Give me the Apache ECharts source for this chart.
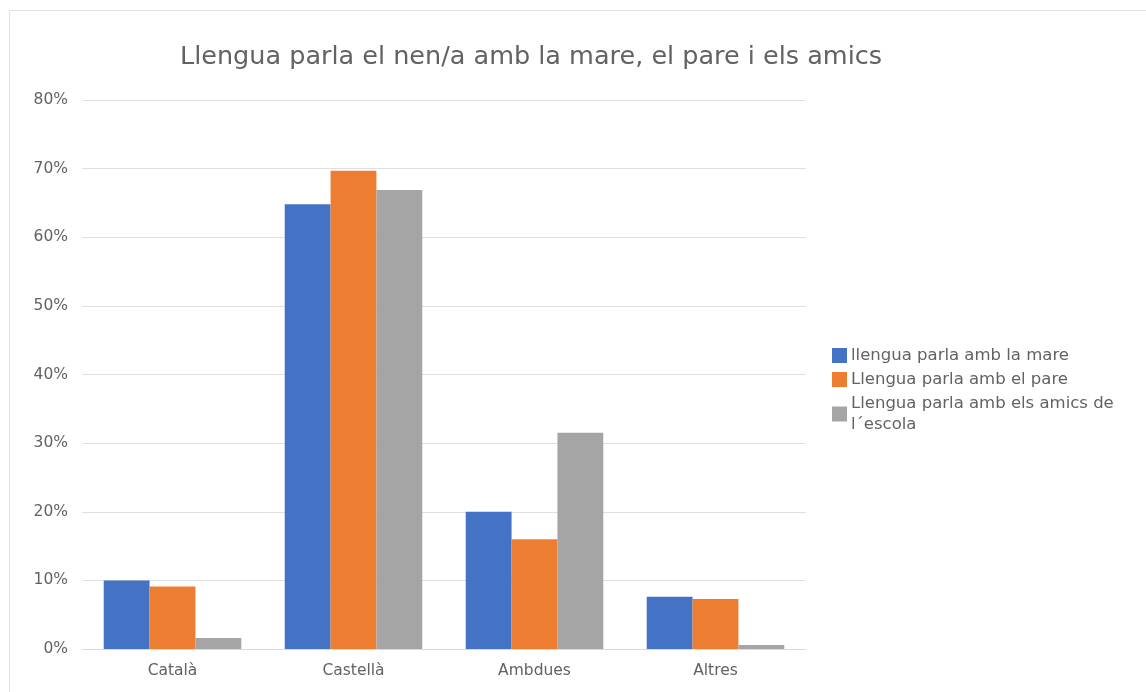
<!DOCTYPE html>
<html>
<head>
<meta charset="utf-8">
<script src="https://cdn.jsdelivr.net/npm/echarts@6/dist/echarts.min.js"></script>
<style>
  html, body { margin: 0; padding: 0; background: #fff; }
  #frame {
    position: absolute; left: 9px; top: 10px; width: 1160px; height: 700px;
    border: 1px solid #e3e3e3; box-sizing: border-box;
  }
  #chart { width: 1146px; height: 692px; position: absolute; left: 0; top: 0; }
</style>
</head>
<body>
<div id="frame"></div>
<div id="chart"></div>
<script>
const categories = ['Català', 'Castellà', 'Ambdues', 'Altres']
const seriesNames = [
  'llengua parla amb la mare',
  'Llengua parla amb el pare',
  'Llengua parla amb els amics de l´escola'
]
const mare = [10.0, 64.8, 20.0, 7.6]
const pare = [9.1, 69.7, 16.0, 7.3]
const amics = [1.6, 66.9, 31.5, 0.6]
const yTicks = [0, 10, 20, 30, 40, 50, 60, 70, 80]

const colors = ['#4472C4', '#ED7D31', '#A5A5A5']
const textColor = '#626262'
const font = '"DejaVu Sans", "Noto Sans", sans-serif'

const chart = echarts.init(document.getElementById('chart'))

const option = {
  animation: false,
  title: {
    text: 'Llengua parla el nen/a amb la mare, el pare i els amics',
    left: 526,
    top: 39,
    textAlign: 'center',
    textStyle: {
      fontFamily: font,
      fontSize: 25.5,
      fontWeight: 'normal',
      color: textColor
    }
  },
  legend: {
    orient: 'vertical',
    left: 832,
    top: 345,
    padding: 0,
    itemWidth: 15,
    itemHeight: 15,
    itemGap: 3,
    icon: 'rect',
    data: seriesNames,
    formatter: (name) => name === seriesNames[2]
      ? 'Llengua parla amb els amics de\nl´escola'
      : name,
    textStyle: {
      fontFamily: font,
      fontSize: 16.5,
      color: textColor,
      lineHeight: 21,
      padding: [0, 0, 0, -1]
    }
  },
  grid: {
    left: 82,
    right: 1146 - 806,
    top: 100,
    bottom: 692 - 649,
    containLabel: false
  },
  xAxis: {
    type: 'category',
    data: categories,
    axisLine: { lineStyle: { color: '#d9d9d9' } },
    axisTick: { show: false },
    axisLabel: {
      fontFamily: font,
      fontSize: 15.5,
      color: textColor,
      margin: 14
    }
  },
  yAxis: {
    type: 'value',
    min: yTicks[0],
    max: yTicks[yTicks.length - 1],
    interval: 10,
    axisLine: { show: false },
    axisTick: { show: false },
    splitLine: { lineStyle: { color: '#e0e0e0', width: 1 } },
    axisLabel: {
      formatter: '{value}%',
      fontFamily: font,
      fontSize: 15.5,
      color: textColor,
      margin: 14
    }
  },
  series: [
    { name: seriesNames[0], type: 'bar', data: mare, itemStyle: { color: colors[0] }, barGap: '0%', barCategoryGap: '24%' },
    { name: seriesNames[1], type: 'bar', data: pare, itemStyle: { color: colors[1] }, barGap: '0%', barCategoryGap: '24%' },
    { name: seriesNames[2], type: 'bar', data: amics, itemStyle: { color: colors[2] }, barGap: '0%', barCategoryGap: '24%' }
  ]
}

chart.setOption(option)
</script>
</body>
</html>
